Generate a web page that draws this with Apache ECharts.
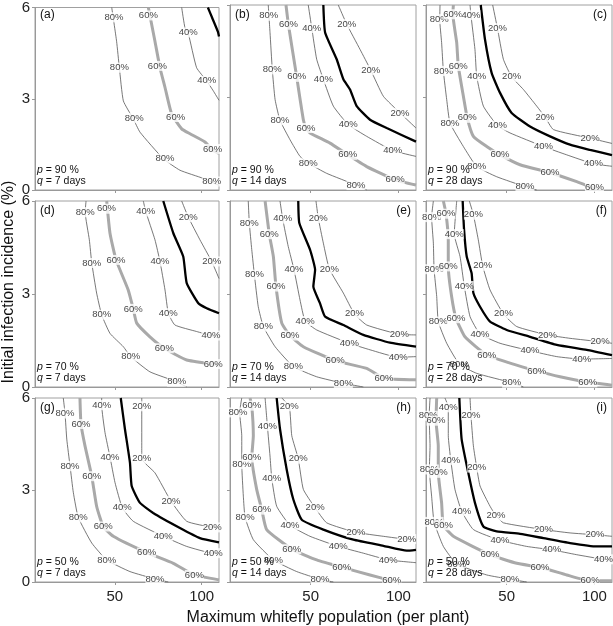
<!DOCTYPE html>
<html><head><meta charset="utf-8">
<script src="https://cdn.jsdelivr.net/npm/echarts@6/dist/echarts.min.js"></script>
<style>html,body{margin:0;padding:0;background:#fff}#c{width:613px;height:626px}</style>
</head><body><div id="c"></div>
<script>
// ---- tick labels ----
const xTicks = [50, 100];
const yTicks = [0, 3, 6];
const xTitle = 'Maximum whitefly population (per plant)';
const yTitle = 'Initial infection incidence (%)';
const levels = [80, 60, 40, 30, 20]; // 30 = unlabeled thick black contour

// ---- panel (a) p=90 q=7 ----
const a80 = [[48.2,6],[51.0,4.89],[52.6,4.02],[54.9,2.93],[60.6,2.34],[64.5,1.9],[77.9,1.03],[87.5,0.65],[101,0.38],[110,0.15]];
const a60 = [[69.3,6],[73.1,4.89],[76.0,4.02],[78.9,3.37],[82.7,2.5],[88.5,2.01],[93.3,1.85],[101.9,1.58],[106.5,1.3],[110,1.2]];
const a40 = [[88.5,6],[90.4,5.33],[92.3,5.15],[97.1,4.02],[102.9,3.59],[106.7,3.26],[110,2.95]];
const a30 = [[103.6,6],[106,5.67],[109.4,5.2],[110,5.05]];
const a20 = [];
const aLab = [[49.5,5.68,80],[52.6,4.02,80],[61.2,2.37,80],[78.9,1.03,80],[105.8,0.28,80],[69.3,5.74,60],[74.5,4.08,60],[85.0,2.4,60],[106.3,1.35,60],[92.3,5.18,40],[102.9,3.59,40]];

// ---- panel (b) p=90 q=14 ----
const b80 = [[25.8,6],[26.8,5.11],[28.1,3.91],[29.7,2.93],[32.5,2.26],[38.2,1.63],[43.9,1.09],[48.6,0.87],[59.1,0.54],[75.8,0.16],[81.9,0]];
const b60 = [[35.9,6],[37.3,5.36],[42.0,3.67],[45.8,2.28],[47.3,2.01],[49.6,1.85],[61,1.52],[71.1,1.14],[81.9,0.76],[98.1,0.33],[110,0.16]];
const b40 = [[48.6,6],[50.6,5.25],[53.4,4.24],[57.2,3.59],[62.9,2.72],[71.4,2.12],[81.9,1.74],[96.7,1.28],[110,1.09]];
const b30 = [[57.2,6],[58.2,5.11],[64.8,4.24],[68.6,3.59],[72.4,3.26],[76.2,2.72],[83.8,2.28],[93.3,2.01],[110,1.57]];
const b20 = [[65.7,6],[70.5,5.38],[78.1,4.56],[84.2,3.89],[91.4,3.04],[100.9,2.5],[110,2.01]];
const bLab = [[26.1,5.65,80],[28.1,3.91,80],[32.5,2.26,80],[48.6,0.87,80],[75.8,0.16,80],[37.3,5.36,60],[42.0,3.67,60],[47.3,2.01,60],[71.1,1.14,60],[98.1,0.33,60],[50.6,5.25,40],[57.2,3.59,40],[71.4,2.12,40],[96.7,1.28,40],[70.5,5.38,20],[84.2,3.89,20],[100.9,2.5,20]];

// ---- panel (c) p=90 q=28 ----
const c80 = [[12,6],[11.8,5.54],[12.9,4.78],[13.9,3.86],[15.8,2.93],[17.7,2.17],[25.3,1.41],[32.9,0.76],[44.3,0.43],[60.4,0.11],[67.1,0]];
const c60 = [[19.6,6],[19.3,5.7],[21.5,4.78],[22.4,4.02],[25.3,3.04],[27.5,2.34],[31,1.74],[38.6,1.41],[46.2,1.14],[57.6,0.82],[74.7,0.56],[89.9,0.27],[100,0.05],[103,0]];
const c40 = [[29.1,6],[29.6,5.67],[31.9,4.56],[32.9,3.69],[36.7,2.72],[44.7,2.09],[51.9,1.85],[70.9,1.41],[84.2,1.14],[99.4,0.85],[110,0.77]];
const c30 = [[35.2,6],[37.6,4.89],[41.4,3.8],[46.2,3.15],[52.8,2.5],[63.3,2.06],[74.7,1.74],[86.1,1.47],[97.5,1.3],[110,1.13]];
const c20 = [[42,6],[44.7,5.25],[48.1,4.24],[52.8,3.67],[59.5,3.26],[67.1,2.72],[71.8,2.37],[76.6,1.96],[97.5,1.68],[110,1.51]];
const cLab = [[11.5,5.54,80],[13.9,3.86,80],[17.7,2.17,80],[32.9,0.76,80],[60.4,0.11,80],[19.3,5.7,60],[22.4,4.02,60],[27.5,2.34,60],[46.2,1.14,60],[74.7,0.56,60],[100,0.1,60],[29.6,5.67,40],[32.9,3.69,40],[44.7,2.09,40],[70.9,1.41,40],[99.4,0.85,40],[44.7,5.25,20],[52.8,3.67,20],[71.8,2.37,20],[97.5,1.68,20]];

// ---- panel (d) p=70 q=7 ----
const d80 = [[33.4,6],[32.9,5.64],[35.3,4.75],[36.7,4.0],[39.5,3.03],[42.4,2.33],[47.2,1.73],[54.9,1.3],[59.1,0.98],[70.2,0.49],[85.6,0.17],[91.4,0]];
const d60 = [[45.3,6],[47.2,4.96],[50.7,4.1],[57.7,3.13],[60.6,2.52],[62.6,2.06],[70.2,1.62],[78.5,1.25],[91.4,0.87],[106.7,0.74],[110,0.71]];
const d40 = [[66.4,6],[67.8,5.66],[73.1,4.75],[76,4.05],[78.9,3.13],[80.8,2.38],[84.6,2.0],[97.1,1.79],[105.4,1.66],[110,1.57]];
const d30 = [[77.9,6],[83.7,4.96],[89.4,4.21],[91.4,3.35],[98.1,2.7],[102.9,2.54],[110,2.38]];
const d20 = [[88.5,6],[92.3,5.48],[99,4.75],[105.8,4.05],[110,3.5]];
const dLab = [[32.9,5.64,80],[36.7,4.0,80],[42.4,2.33,80],[59.1,0.98,80],[85.6,0.17,80],[45.2,5.75,60],[50.7,4.1,60],[60.6,2.52,60],[78.5,1.25,60],[106.7,0.74,60],[67.8,5.66,40],[76,4.05,40],[80.8,2.38,40],[105.4,1.66,40],[92.3,5.48,20],[105.8,4.05,20]];

// ---- panel (e) p=70 q=14 ----
const e80 = [[14.4,6],[15,5.29],[16.4,4.43],[17.9,3.62],[20.1,2.59],[23,1.95],[29.7,1.3],[40.1,0.66],[53.4,0.33],[68.6,0.12],[80,0]];
const e60 = [[24,6],[26.4,4.93],[28.7,4.21],[30.2,3.24],[33.5,2.06],[38.2,1.66],[45.8,1.3],[63.9,0.85],[81.9,0.6],[91.8,0.28],[110,0.23]];
const e40 = [[32.5,6],[34,5.43],[37.2,4.53],[40.5,3.78],[43.9,2.81],[46.8,2.13],[53.4,1.84],[72,1.41],[83.8,1.2],[99.9,0.96],[110,0.98]];
const e30 = [[42.9,6],[43.5,5.29],[49.6,4.43],[52.5,3.78],[51.5,3.24],[55.3,2.7],[58.2,2.27],[68.6,2.0],[80,1.68],[95.2,1.43],[110,1.3]];
const e20 = [[53,6],[54.3,5.45],[57.2,4.64],[60.6,3.81],[68.6,3.03],[74.9,2.36],[81.9,2.0],[100.5,1.7],[110,1.68]];
const eLab = [[15,5.29,80],[17.9,3.62,80],[23,1.95,80],[40.1,0.66,80],[68.6,0.12,80],[26.4,4.93,60],[30.2,3.24,60],[38.2,1.66,60],[63.9,0.85,60],[91.8,0.28,60],[34,5.43,40],[40.5,3.78,40],[46.8,2.13,40],[72,1.41,40],[99.9,0.96,40],[54.3,5.45,20],[60.6,3.81,20],[74.9,2.36,20],[100.5,1.7,20]];

// ---- panel (f) p=70 q=28 ----
const f80 = [[8.2,6],[7.2,5.48],[8.2,4.64],[8.6,3.8],[10.1,2.92],[11,2.11],[15.8,1.41],[23,0.74],[32.9,0.44],[52.8,0.14],[59.5,0]];
const f60 = [[13.9,6],[15.4,5.59],[16.7,4.75],[16.7,3.89],[18.6,2.92],[21.1,2.22],[26.2,1.62],[38.6,1.03],[51.9,0.77],[67.1,0.52],[80.4,0.33],[96.2,0.15],[110,0.06]];
const f40 = [[21.5,6],[20.1,4.93],[23.4,4.21],[25.8,3.26],[29.1,2.27],[34.8,1.71],[46.2,1.41],[63.3,1.17],[78.5,0.98],[92.7,0.9],[110,0.92]];
const f30 = [[24.9,6],[25.7,5.07],[27.2,4.21],[30,3.67],[31,3.03],[34.8,2.59],[40.5,2.11],[50,1.84],[63.3,1.62],[78.5,1.36],[95.6,1.2],[110,1.03]];
const f20 = [[28.7,6],[31,5.56],[33.8,4.75],[36.3,3.91],[40.5,3.13],[48.1,2.36],[55.7,1.95],[73.2,1.68],[86.1,1.57],[103.2,1.46],[110,1.41]];
const fLab = [[7.2,5.48,80],[8.6,3.8,80],[11,2.11,80],[23,0.74,80],[52.8,0.14,80],[15.4,5.59,60],[16.7,3.89,60],[21.1,2.22,60],[38.6,1.03,60],[67.1,0.52,60],[96.2,0.15,60],[20.1,4.93,40],[25.8,3.26,40],[34.8,1.71,40],[63.3,1.17,40],[92.7,0.9,40],[31,5.56,20],[36.3,3.91,20],[48.1,2.36,20],[73.2,1.68,20],[103.2,1.46,20]];

// ---- panel (g) p=50 q=7 ----
const g80 = [[20.3,6],[21.3,5.5],[22.3,4.66],[24.2,3.78],[26.1,2.91],[28.9,2.11],[36.7,1.27],[45.3,0.72],[58.7,0.34],[73.1,0.1],[80.8,0]];
const g60 = [[29.9,6],[30.5,5.15],[32.8,4.44],[36.7,3.45],[39.5,2.47],[43.3,1.81],[49.1,1.49],[68.3,0.96],[83.7,0.61],[95.8,0.23],[110,0.07]];
const g40 = [[42.4,6],[42.4,5.77],[44.3,4.88],[47.2,4.08],[50.1,3.24],[54.3,2.42],[60.6,1.98],[77.9,1.49],[91.4,1.16],[106.7,0.94],[110,0.94]];
const g30 = [[53.4,6],[55.8,4.99],[58.7,3.89],[59.7,3.13],[64.5,2.58],[72.1,2.25],[87.5,1.76],[99,1.43],[110,1.29]];
const g20 = [[65.5,6],[65.5,5.73],[65.5,4.44],[65.5,4.02],[73.1,3.56],[82.3,2.64],[91.4,1.98],[106.1,1.78],[110,1.76]];
const gLab = [[21.3,5.5,80],[24.2,3.78,80],[28.9,2.11,80],[45.3,0.72,80],[73.1,0.1,80],[30.5,5.15,60],[36.7,3.45,60],[43.3,1.81,60],[68.3,0.96,60],[95.8,0.23,60],[42.4,5.77,40],[47.2,4.08,40],[54.3,2.42,40],[77.9,1.49,40],[106.7,0.94,40],[65.5,5.73,20],[65.5,4.02,20],[82.3,2.64,20],[106.1,1.78,20]];

// ---- panel (h) p=50 q=14 ----
const h80 = [[10.7,6],[9.5,5.53],[10.7,4.77],[10.7,3.84],[11.6,2.8],[12.6,2.11],[17.3,1.38],[28.7,0.72],[42,0.34],[55.3,0.09],[62.9,0]];
const h60 = [[15.4,6],[16.4,5.75],[17.3,4.77],[16.4,4.06],[19.2,3.02],[22.1,2.36],[24.9,1.71],[39.2,1.07],[53.4,0.72],[67.7,0.48],[83.8,0.23],[96.2,0.04],[100,0]];
const h40 = [[24,6],[25.3,5.09],[26.8,4.11],[27.8,3.38],[30.6,2.47],[38.2,1.85],[49.6,1.49],[65.7,1.16],[80,0.94],[94.2,0.72],[110,0.63]];
const h30 = [[30.6,6],[32.5,4.99],[36.3,3.67],[40.1,2.69],[44.9,2.03],[57.2,1.71],[74.3,1.38],[91.4,1.18],[104.7,1.02],[110,1.05]];
const h20 = [[33.5,6],[37.8,5.73],[39.2,4.77],[42.9,4.02],[45.8,3.02],[52.5,2.42],[59.1,1.93],[75.8,1.62],[91.4,1.49],[104.7,1.4],[110,1.4]];
const hLab = [[8.5,5.53,80],[10.7,3.84,80],[12.6,2.11,80],[28.7,0.72,80],[55.3,0.09,80],[16.4,5.75,60],[16.4,4.06,60],[22.1,2.36,60],[39.2,1.07,60],[67.7,0.48,60],[96.2,0.06,60],[25.3,5.09,40],[27.8,3.38,40],[38.2,1.85,40],[65.7,1.16,40],[94.2,0.72,40],[37.8,5.73,20],[42.9,4.02,20],[52.5,2.42,20],[75.8,1.62,20],[104.7,1.4,20]];

// ---- panel (i) p=50 q=28 ----
const i80 = [[6.3,6],[5.8,5.42],[6.3,4.44],[5.9,3.67],[7.2,2.8],[8.6,1.96],[13.9,1.16],[21.5,0.59],[38.6,0.23],[51.9,0.09],[61.4,0]];
const i60 = [[10.1,6],[9.7,5.26],[11,4.44],[11,3.56],[12.9,2.58],[13.9,1.85],[19.6,1.49],[40.5,0.89],[55.7,0.61],[69,0.48],[84.2,0.23],[97.5,0.04],[110,0.04]];
const i40 = [[14.8,6],[16.7,5.7],[16.7,4.77],[18.1,3.98],[20.5,3.02],[24.3,2.31],[31,1.71],[46.2,1.36],[61.4,1.16],[75.6,1.05],[89.9,0.89],[105.1,0.74],[110,0.72]];
const i30 = [[23,6],[24.3,4.66],[28.1,3.56],[31.9,2.58],[36.7,1.81],[44.3,1.65],[57.6,1.57],[70.9,1.43],[86.1,1.27],[101.3,1.16],[110,1.16]];
const i20 = [[29.1,6],[29.6,5.44],[31,4.44],[32.9,3.73],[34.8,3.13],[40.5,2.47],[43.9,2.16],[48.1,1.93],[70.9,1.71],[86.1,1.6],[100.3,1.54],[110,1.49]];
const iLab = [[5.3,5.42,80],[5.9,3.67,80],[8.6,1.96,80],[21.5,0.59,80],[51.9,0.09,80],[9.7,5.26,60],[11,3.56,60],[13.9,1.85,60],[40.5,0.89,60],[69,0.48,60],[97.5,0.06,60],[16.7,5.7,40],[18.1,3.98,40],[24.3,2.31,40],[46.2,1.36,40],[75.6,1.05,40],[105.1,0.74,40],[29.6,5.44,20],[32.9,3.73,20],[43.9,2.16,20],[70.9,1.71,20],[100.3,1.54,20]];

const pVals = ['90','90','90','70','70','70','50','50','50'];
const qVals = ['7','14','28','7','14','28','7','14','28'];
const tags = ['(a)','(b)','(c)','(d)','(e)','(f)','(g)','(h)','(i)'];
const tagRight = [false,false,true,false,true,true,false,true,true];

const lineSets = [
  [a80,a60,a40,a30,a20],[b80,b60,b40,b30,b20],[c80,c60,c40,c30,c20],
  [d80,d60,d40,d30,d20],[e80,e60,e40,e30,e20],[f80,f60,f40,f30,f20],
  [g80,g60,g40,g30,g20],[h80,h60,h40,h30,h20],[i80,i60,i40,i30,i20]
];
const labelSets = [aLab,bLab,cLab,dLab,eLab,fLab,gLab,hLab,iLab];

// ---- layout ----
const FONT = 'Liberation Sans, Arial, sans-serif';
const colLeft = [35, 230, 426], colW = [184, 186, 186];
const rowTop = [5, 201, 398], rowH = [185, 186, 184];
const styleFor = {
  80: {color:'#555', width:0.8},
  60: {color:'#a9a9a9', width:3},
  40: {color:'#555', width:0.8},
  30: {color:'#000', width:2.3},
  20: {color:'#555', width:0.8}
};

const grids = [], xAxes = [], yAxes = [], series = [], graphics = [];
for (let k = 0; k < 9; k++) {
  const r = Math.floor(k / 3), c = k % 3;
  const L = colLeft[c], T = rowTop[r], W = colW[c], H = rowH[r];
  grids.push({left:L, top:T, width:W, height:H, show:true, borderColor:'#a0a0a0', borderWidth:1, backgroundColor:'transparent'});
  xAxes.push({
    type:'value', gridIndex:k, min:4, max:110,
    axisLine:{show:true, lineStyle:{color:'#999', width:1}},
    axisTick:{show:true, customValues:xTicks, length:3, lineStyle:{color:'#999'}},
    axisLabel:{show:r===2, customValues:xTicks, fontSize:15, color:'#222', fontFamily:FONT, margin:7},
    splitLine:{show:false}
  });
  yAxes.push({
    type:'value', gridIndex:k, min:0, max:6, interval:3,
    axisLine:{show:true, lineStyle:{color:'#999', width:1}},
    axisTick:{show:true, length:3, lineStyle:{color:'#999'}},
    axisLabel:{show:c===0, fontSize:15, color:'#222', fontFamily:FONT, margin:5},
    splitLine:{show:false}
  });
  levels.forEach((lv, j) => {
    const d = lineSets[k][j];
    if (!d.length) return;
    series.push({
      type:'line', xAxisIndex:k, yAxisIndex:k, data:d, showSymbol:false, symbol:'none',
      smooth:0.15, lineStyle:styleFor[lv], z: lv===30 ? 3 : 2, animation:false, silent:true
    });
  });
  series.push({
    type:'scatter', xAxisIndex:k, yAxisIndex:k, data:labelSets[k], symbolSize:1,
    itemStyle:{color:'rgba(0,0,0,0)'}, z:6, animation:false, silent:true,
    label:{show:true, position:'inside', formatter:p => p.value[2] + '%', fontSize:9.5,
      color:'#111', fontFamily:FONT, backgroundColor:'#fff', padding:[0,0]}
  });
  // panel tag
  graphics.push({
    type:'text', left: tagRight[k] ? undefined : L + 5, right: tagRight[k] ? 613 - (L + W) + 5 : undefined,
    top: T + 4,
    style:{text:tags[k], font:'12px ' + FONT, fill:'#111'}, z:10
  });
  // p / q annotation
  graphics.push({
    type:'text', left: L + 2, top: H + T - 25, z:10,
    style:{text:'{i|p} = ' + pVals[k] + ' %\n{i|q} = ' + qVals[k] + ' days', fill:'#111',
      font:'10.5px ' + FONT, lineHeight:11,
      rich:{i:{fontStyle:'italic', fontSize:10.5, fontFamily:FONT, fill:'#111', lineHeight:11}}}
  });
}
// axis titles
graphics.push({type:'text', x:328, y:618, z:10,
  style:{text:xTitle, font:'16px ' + FONT, fill:'#111', textAlign:'center', textVerticalAlign:'middle'}});
graphics.push({type:'text', x:9, y:282, rotation:Math.PI/2, z:10,
  style:{text:yTitle, font:'16px ' + FONT, fill:'#111', textAlign:'center', textVerticalAlign:'middle'}});

const chart = echarts.init(document.getElementById('c'), null, {renderer:'canvas'});
chart.setOption({
  animation:false, backgroundColor:'#fff',
  grid:grids, xAxis:xAxes, yAxis:yAxes, series:series, graphic:graphics
});
</script></body></html>
